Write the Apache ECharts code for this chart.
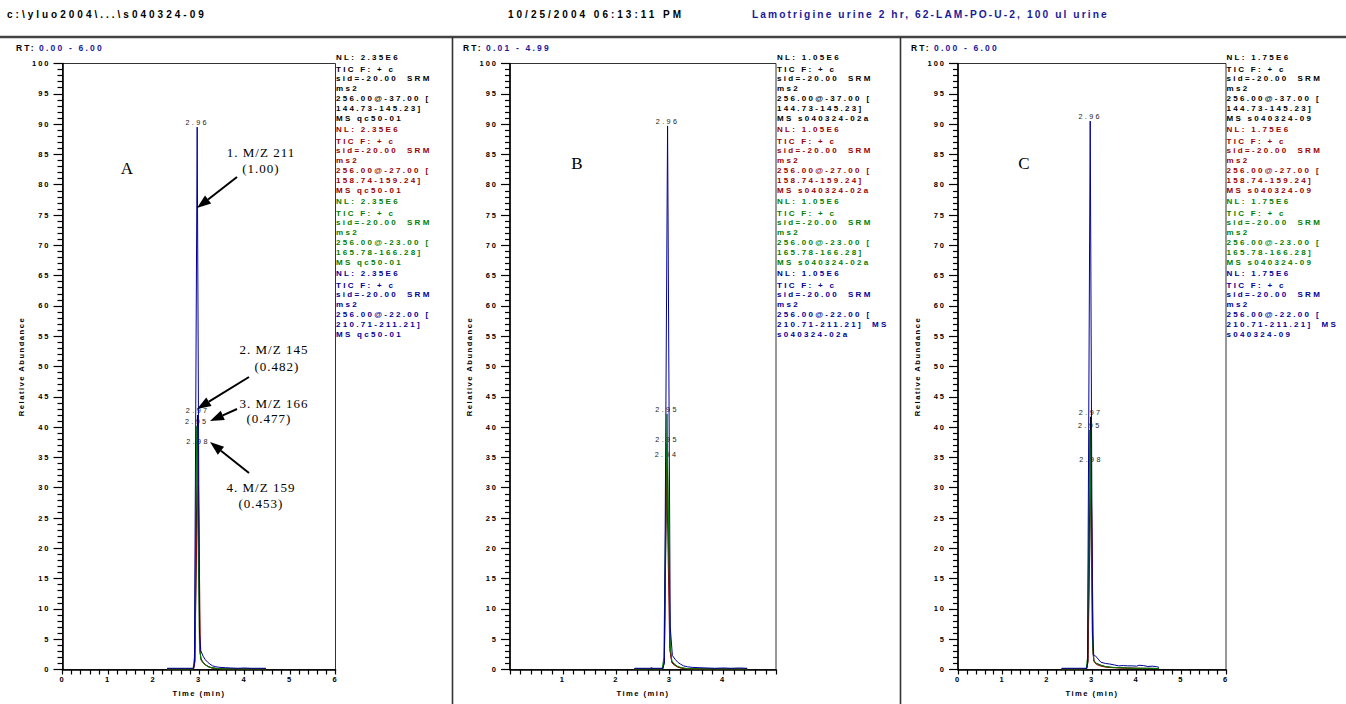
<!DOCTYPE html>
<html>
<head>
<meta charset="utf-8">
<title>Lamotrigine urine 2 hr SRM chromatograms</title>
<script src="https://cdn.jsdelivr.net/npm/echarts@6/dist/echarts.min.js"></script>
<style>
  html, body { margin: 0; padding: 0; background: #fff; }
  #chart { width: 1346px; height: 704px; }
  /* printout-style spaced lettering, keyed on each text group's font size */
  #chart text { white-space: pre; }
  #chart text[style*="10px"]   { letter-spacing: 3px; }
  #chart text[style*="10.2px"] { letter-spacing: 2.1px; }
  #chart text[style*="8.5px"]  { letter-spacing: 2.2px; }
  #chart text[style*="8px"]    { letter-spacing: 2.3px; }
  #chart text[style*="7.5px"]  { letter-spacing: 2px; }
  #chart text[style*="7.6px"]  { letter-spacing: 1.5px; }
  #chart text[style*="7.2px"]  { letter-spacing: 2.4px; }
  #chart text[style*="13px"]   { letter-spacing: 1px; }
</style>
</head>
<body>
<div id="chart"></div>
<script>
// ---- chromatogram traces: [retention time (min), relative abundance (%)] ----
// Panel A (qc50-01)
const a145 = [[2.30,0.1],[2.50,0.1],[2.70,0.1],[2.88,0.1],[2.91,1.5],[2.97,42.0],[3.02,3.2],[3.04,1.8],[3.09,1.2],[3.14,0.8],[3.20,0.5],[3.27,0.3],[3.35,0.2],[3.50,0.1],[3.80,0.1],[4.10,0.1],[4.47,0.1]];
const a159 = [[2.30,0.1],[2.60,0.1],[2.88,0.1],[2.91,1.2],[2.98,36.9],[3.03,2.5],[3.05,1.5],[3.10,1.0],[3.15,0.7],[3.21,0.45],[3.28,0.25],[3.38,0.15],[3.60,0.1],[4.00,0.1],[4.47,0.1]];
const a166 = [[2.30,0.1],[2.60,0.1],[2.87,0.1],[2.90,2.0],[2.95,40.2],[3.01,4.0],[3.04,1.7],[3.09,1.1],[3.15,0.7],[3.21,0.45],[3.28,0.3],[3.36,0.2],[3.50,0.1],[3.80,0.1],[4.47,0.1]];
const a211 = [[2.30,0.2],[2.50,0.2],[2.70,0.2],[2.88,0.2],[2.90,1.0],[2.96,89.5],[3.01,6.0],[3.04,3.1],[3.09,2.2],[3.14,1.6],[3.19,1.2],[3.24,0.9],[3.30,0.6],[3.37,0.45],[3.46,0.35],[3.58,0.3],[3.70,0.25],[3.85,0.2],[4.00,0.25],[4.15,0.2],[4.30,0.2],[4.47,0.2]];
// Panel B (s040324-02a)
const b145 = [[2.34,0.1],[2.60,0.1],[2.87,0.1],[2.90,1.5],[2.95,37.2],[3.01,3.0],[3.04,1.3],[3.09,0.8],[3.15,0.45],[3.22,0.25],[3.32,0.15],[3.50,0.1],[3.90,0.1],[4.45,0.1]];
const b159 = [[2.34,0.1],[2.62,0.1],[2.66,0.3],[2.70,0.1],[2.87,0.1],[2.90,1.5],[2.94,34.8],[3.00,3.5],[3.04,1.1],[3.09,0.7],[3.15,0.4],[3.22,0.2],[3.35,0.1],[3.90,0.1],[4.45,0.1]];
const b166 = [[2.34,0.1],[2.60,0.1],[2.86,0.1],[2.89,2.0],[2.95,42.2],[3.01,4.0],[3.04,1.4],[3.09,0.9],[3.15,0.5],[3.22,0.3],[3.32,0.15],[3.50,0.1],[3.90,0.1],[4.45,0.1]];
const b211 = [[2.34,0.2],[2.60,0.2],[2.87,0.2],[2.90,1.0],[2.96,89.7],[3.01,7.0],[3.05,2.3],[3.10,1.7],[3.15,1.2],[3.20,0.9],[3.26,0.6],[3.33,0.45],[3.42,0.35],[3.55,0.3],[3.70,0.25],[3.85,0.2],[4.00,0.25],[4.15,0.2],[4.30,0.25],[4.45,0.2]];
// Panel C (s040324-09)
const c145 = [[2.32,0.1],[2.60,0.1],[2.88,0.1],[2.91,1.5],[2.97,41.7],[3.02,3.0],[3.04,1.4],[3.10,1.0],[3.20,0.7],[3.30,0.45],[3.45,0.35],[3.60,0.3],[3.80,0.25],[4.00,0.2],[4.30,0.2],[4.50,0.15]];
const c159 = [[2.32,0.1],[2.60,0.1],[2.88,0.1],[2.91,1.2],[2.98,33.9],[3.03,2.5],[3.05,1.2],[3.11,0.8],[3.20,0.55],[3.30,0.4],[3.45,0.3],[3.60,0.25],[3.80,0.2],[4.00,0.2],[4.30,0.15],[4.50,0.15]];
const c166 = [[2.32,0.1],[2.60,0.1],[2.87,0.1],[2.90,2.0],[2.95,39.5],[3.01,5.0],[3.04,1.5],[3.10,1.0],[3.20,0.7],[3.30,0.5],[3.45,0.35],[3.60,0.3],[3.80,0.25],[4.00,0.2],[4.30,0.2],[4.50,0.15]];
const c211 = [[2.32,0.2],[2.60,0.2],[2.88,0.2],[2.90,1.0],[2.96,90.5],[3.01,6.0],[3.04,2.3],[3.08,2.2],[3.11,2.0],[3.15,1.6],[3.20,1.2],[3.30,1.0],[3.40,0.9],[3.50,0.75],[3.60,0.6],[3.70,0.65],[3.80,0.6],[3.90,0.6],[4.00,0.55],[4.05,0.7],[4.15,0.65],[4.25,0.5],[4.35,0.55],[4.45,0.45],[4.50,0.35]];

const panelTraces = [[a145, a159, a166, a211], [b145, b159, b166, b211], [c145, c159, c166, c211]];

// ---- scan descriptions ----
const panelLetters = ['A', 'B', 'C'];
const rtRanges = ['0.00 - 6.00', '0.01 - 4.99', '0.00 - 6.00'];
const timeMin = [0, 0.01, 0];
const timeMax = [6, 4.99, 6];
const nlValues = ['2.35E6', '1.05E6', '1.75E6'];
const rawFiles = ['qc50-01', 's040324-02a', 's040324-09'];
const collisionEnergies = ['-37.00', '-27.00', '-23.00', '-22.00'];
const massRanges = ['144.73-145.23]', '158.74-159.24]', '165.78-166.28]', '210.71-211.21]'];
const channelColors = ['#000000', '#990000', '#008000', '#000099'];
const yTicks = [0, 100, 5];

// ---- layout ----
const gridLeft = [62.5, 510, 958];
const gridWidth = [273, 266, 268];
const gridTop = 63.5, gridHeight = 606;
const legendX = [336, 777, 1226.5];
const rtX = [16, 463, 911];
const letterPos = [[127, 168], [577, 163], [1024, 163]];
const SANS = 'Liberation Sans', SERIF = 'Liberation Serif';

const grids = [], xAxes = [], yAxes = [], series = [];
for (let p = 0; p < 3; p++) {
  grids.push({ left: gridLeft[p], top: gridTop, width: gridWidth[p], height: gridHeight,
    show: true, borderColor: '#333', borderWidth: 1, backgroundColor: 'transparent' });
  const xa = {
    gridIndex: p, type: 'value', min: timeMin[p], max: timeMax[p],
    name: 'Time (min)', nameLocation: 'middle', nameGap: 20,
    nameTextStyle: { fontSize: 7.6, fontWeight: 'bold', fontFamily: SANS, color: '#000' },
    axisLine: { show: true, onZero: false, lineStyle: { color: '#000', width: 1.6 } },
    axisTick: { show: true, length: 5, lineStyle: { color: '#000', width: 1.2 } },
    minorTick: { show: true, splitNumber: 5, length: 5, lineStyle: { color: '#000', width: 1.2 } },
    splitLine: { show: false },
    axisLabel: { margin: 6, fontSize: 7.5, fontWeight: 'bold', fontFamily: SANS, color: '#000',
      showMinLabel: true, showMaxLabel: true,
      formatter: v => (Math.abs(v - Math.round(v)) < 1e-6 ? String(Math.round(v)) : '') }
  };
  if (timeMin[p] === 0) xa.interval = 1;
  xAxes.push(xa);
  yAxes.push({
    gridIndex: p, type: 'value', min: yTicks[0], max: yTicks[1], interval: yTicks[2],
    name: 'Relative Abundance', nameLocation: 'middle', nameGap: 37, nameRotate: 90,
    nameTextStyle: { fontSize: 7.6, fontWeight: 'bold', fontFamily: SANS, color: '#000' },
    axisLine: { show: true, lineStyle: { color: '#000', width: 1.6 } },
    axisTick: { show: true, length: 9, lineStyle: { color: '#000', width: 1.2 } },
    minorTick: { show: true, splitNumber: 5, length: 5, lineStyle: { color: '#000', width: 1.2 } },
    splitLine: { show: false },
    axisLabel: { margin: 12, fontSize: 7.5, fontWeight: 'bold', fontFamily: SANS, color: '#000' }
  });
  panelTraces[p].forEach((trace, c) => {
    // the apex of each trace carries its retention-time label
    let apex = 0;
    trace.forEach((pt, i) => { if (pt[1] > trace[apex][1]) apex = i; });
    series.push({
      type: 'line', xAxisIndex: p, yAxisIndex: p, silent: true, animation: false,
      symbol: 'circle', symbolSize: 0, showSymbol: true, z: 2 + c,
      lineStyle: { color: channelColors[c], width: 1 },
      itemStyle: { color: channelColors[c] },
      label: { show: false },
      data: trace.map((pt, i) => i === apex ? {
        value: pt,
        label: { show: true, position: 'top', distance: 1, fontSize: 7.2, fontFamily: SANS,
          color: '#222', formatter: d => d.value[0].toFixed(2) }
      } : pt)
    });
  });
}

// ---- page furniture: header, separators, scan headers, annotations ----
const graphic = [];
function txt(text, x, y, size, color, opts) {
  graphic.push({ type: 'text', silent: true, z: 10, style: Object.assign({
    text, x, y, fontSize: size, fontFamily: SANS, fontWeight: 'bold', fill: color,
    align: 'left', verticalAlign: 'middle' }, opts || {}) });
}
function seg(x1, y1, x2, y2, color, w) {
  graphic.push({ type: 'line', silent: true, z: 10, shape: { x1, y1, x2, y2 },
    style: { stroke: color, lineWidth: w } });
}
function arrow(x1, y1, x2, y2) {
  const dx = x2 - x1, dy = y2 - y1, L = Math.hypot(dx, dy);
  const ux = dx / L, uy = dy / L, head = 14, half = 5;
  const bx = x2 - ux * head, by = y2 - uy * head;
  seg(x1, y1, bx, by, '#000', 2);
  graphic.push({ type: 'polygon', silent: true, z: 10,
    shape: { points: [[x2, y2], [bx - uy * half, by + ux * half], [bx + uy * half, by - ux * half]] },
    style: { fill: '#000' } });
}

txt('c:\\yluo2004\\...\\s040324-09', 7, 14, 10, '#000');
txt('10/25/2004 06:13:11 PM', 508, 14, 10, '#000');
txt('Lamotrigine urine 2 hr, 62-LAM-PO-U-2, 100 ul urine', 752, 14, 10.2, '#1a1a99');
seg(0, 37, 1346, 37, '#444', 2.5);
seg(452.5, 37, 452.5, 704, '#333', 1.6);
seg(900.5, 37, 900.5, 704, '#333', 1.6);

const groupOffsets = [0, 12, 21.5, 31, 41.5, 51, 61];
for (let p = 0; p < 3; p++) {
  txt('RT:', rtX[p], 48, 8.5, '#000');
  txt(rtRanges[p], rtX[p] + 23, 48, 8.5, '#1a1a99');
  for (let c = 0; c < 4; c++) {
    let lines = ['NL: ' + nlValues[p], 'TIC F: + c', 'sid=-20.00  SRM', 'ms2',
      '256.00@' + collisionEnergies[c] + ' [', massRanges[c], 'MS ' + rawFiles[p]];
    if (c === 3 && p > 0) lines = lines.slice(0, 5).concat([massRanges[c] + '  MS', rawFiles[p]]);
    lines.forEach((s, i) => txt(s, legendX[p], 57 + c * 72 + groupOffsets[i], 8, channelColors[c]));
  }
  txt(panelLetters[p], letterPos[p][0], letterPos[p][1], 17, '#000',
    { fontFamily: SERIF, fontWeight: 'normal', align: 'center' });
}

const notes = [['1. M/Z 211', 261, 152], ['(1.00)', 261, 168], ['2. M/Z 145', 274, 349], ['(0.482)', 277, 366],
  ['3. M/Z 166', 274, 403], ['(0.477)', 269, 418], ['4. M/Z 159', 261, 487], ['(0.453)', 261, 503]];
notes.forEach(n => txt(n[0], n[1], n[2], 13, '#000', { fontFamily: SERIF, fontWeight: 'normal', align: 'center' }));
arrow(237, 177, 197, 208);
arrow(249, 377, 197, 409);
arrow(237, 409, 210, 421);
arrow(249, 473, 210, 442);

const chart = echarts.init(document.getElementById('chart'), null, { renderer: 'svg', width: 1346, height: 704 });
chart.setOption({
  animation: false,
  backgroundColor: '#fff',
  grid: grids, xAxis: xAxes, yAxis: yAxes, series: series, graphic: graphic
});
</script>
</body>
</html>
